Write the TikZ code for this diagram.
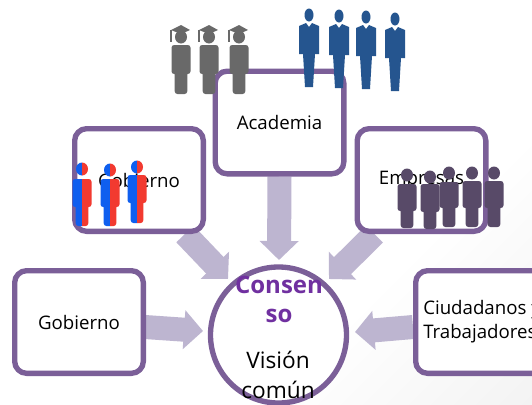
\documentclass[tikz,border=0pt]{standalone}
\usepackage{fontspec}
\setmainfont{Open Sans}
\usetikzlibrary{arrows.meta,backgrounds,calc}
\definecolor{boxline}{HTML}{7B5F98}
\definecolor{flowc}{HTML}{BDB5D0}
\definecolor{consc}{HTML}{7030A0}
\definecolor{grayp}{HTML}{696969}
\definecolor{bluep}{HTML}{25558F}
\definecolor{rbl}{HTML}{0F5FEF}
\definecolor{rrd}{HTML}{F23A30}
\definecolor{darkp}{HTML}{584A68}
\pgfdeclareverticalshading{softcorner}{100bp}{color(0bp)=(black!8); color(35bp)=(white); color(100bp)=(white)}
\tikzset{
  x=0.75pt,y=-0.75pt,
  card/.style={draw=boxline,line width=4pt,rounded corners=9pt,fill=white,minimum width=96.5pt,minimum height=77pt,inner sep=0pt,font=\fontsize{14}{17}\selectfont,align=center},
  hub/.style={circle,draw=boxline,line width=4pt,fill=white,minimum size=102pt,inner sep=0pt},
  flow/.style={draw=flowc,line width=18pt,-{Triangle[width=28.5pt,length=14.25pt]}},
  bigword/.style={font=\bfseries\fontsize{18}{20}\selectfont,text=consc},
  plainword/.style={font=\fontsize{17}{20}\selectfont},
}
\newcommand{\stocky}[6]{%
  \fill[#6] (#1,#2) circle[x radius=6,y radius=6.5];
  \fill[#6,rounded corners=2pt] (#1-9.5,#3) rectangle (#1+9.5,#4);
  \fill[#6,rounded corners=2pt] (#1-6.3,#4-4) rectangle (#1+6.3,#5);
}
\newcommand{\splitp}[5]{%
  \begin{scope}
    \clip (#1-15,#2-10) rectangle (#1,#5+2);
    \stocky{#1}{#2}{#3}{#4}{#5}{rbl}
  \end{scope}
  \begin{scope}
    \clip (#1,#2-10) rectangle (#1+15,#5+2);
    \stocky{#1}{#2}{#3}{#4}{#5}{rrd}
  \end{scope}
}
\newcommand{\suit}[2]{%
  \fill[bluep] (#1,#2) circle[x radius=4.5,y radius=6.5];
  \fill[bluep] (#1-10,#2+11) -- (#1-3,#2+8) -- (#1,#2+12) -- (#1+3,#2+8) -- (#1+10,#2+11)
     -- (#1+10,#2+39) -- (#1+6,#2+39) -- (#1+4,#2+72) -- (#1-4,#2+72) -- (#1-6,#2+39) -- (#1-10,#2+39) -- cycle;
}
\newcommand{\grad}[1]{%
  \stocky{#1}{37}{45}{74}{94}{grayp}
  \fill[grayp] (#1-10,30) -- (#1,25) -- (#1+9,30) -- (#1,34) -- cycle;
  \draw[grayp,line width=0.8pt] (#1-10,30) -- (#1-10,42);
}
\begin{document}
\begin{tikzpicture}
\useasboundingbox (0,0) rectangle (532,404);
\clip (0,0) rectangle (532,404);
\begin{scope}[on background layer]
  \shade[shading=softcorner,shading angle=45] (0,0) rectangle (532,404);
\end{scope}
\node[card] (acad) at (279.5,122.5) {Academia};
\node[card] (gobt) at (139,180) {Gobierno};
\node[card] (emp) at (421.5,180) {Empresas};
\node[card] (gob) at (79,322) {Gobierno};
\node[card,anchor=west] (ciud) at (413,322) {};
\node[anchor=west,inner sep=0pt,align=left,font=\fontsize{14}{17.5}\selectfont] (ciudt) at (423,321.5) {Ciudadanos y\\Trabajadores};
\node[hub] (cons) at (278.5,335) {};
\node[bigword] (t1) at (279,285) {Consen};
\node[bigword] (t2) at (279,316) {so};
\node[plainword] (t3) at (278,360) {Visión};
\node[plainword] (t4) at (278,390) {común};
\begin{scope}[on background layer]
  \draw[flow] (acad.south) -- ($(cons.center)+(0.5,-75)$);
  \draw[flow] ($(gobt.center)+(46,54)$) -- ($(cons.center)+(-50.5,-56)$);
  \draw[flow] ($(emp.center)+(-47,54)$) -- ($(cons.center)+(50.5,-56)$);
  \draw[flow] ($(gob.center)+(66,5)$) -- ($(cons.center)+(-75.5,-4)$);
  \draw[flow] ($(ciud.west)+(0,5)$) -- ($(cons.center)+(76.5,-3)$);
\end{scope}
\grad{181}\grad{209}\grad{239}
\suit{309}{15}\suit{339}{16}\suit{366}{17}\suit{395}{19}
\splitp{82}{169}{179}{207}{226}
\splitp{110}{170}{179}{207}{226}
\splitp{137}{167}{175}{203}{223}
\stocky{407}{175}{184}{211}{228}{darkp}
\stocky{430}{177}{184}{212}{229}{darkp}
\stocky{449}{173}{182}{208}{227}{darkp}
\stocky{472}{173}{181}{208}{227}{darkp}
\stocky{494}{173}{181}{208}{227}{darkp}
\end{tikzpicture}
\end{document}
